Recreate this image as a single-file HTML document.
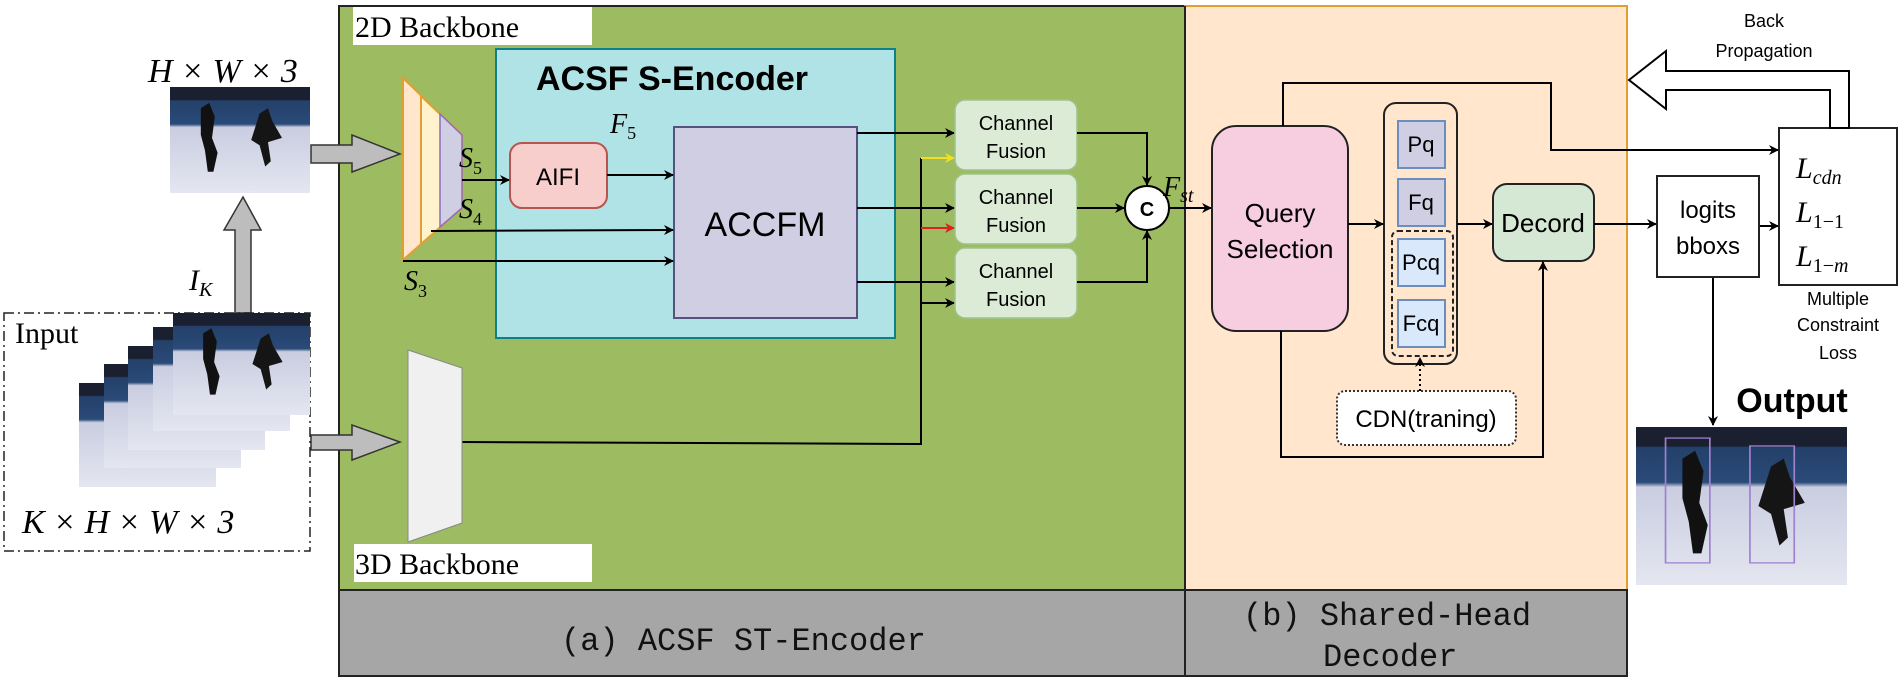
<!DOCTYPE html>
<html><head><meta charset="utf-8"><style>
html,body{margin:0;padding:0;background:#fff;}
svg{display:block;}
.serif{font-family:"Liberation Serif",serif;}
.sans{font-family:"Liberation Sans",sans-serif;}
.mono{font-family:"Liberation Mono",monospace;}
</style></head><body>
<svg width="1900" height="683" viewBox="0 0 1900 683" xmlns="http://www.w3.org/2000/svg">
<defs>
<marker id="ah" markerWidth="10" markerHeight="10" refX="9" refY="5" orient="auto" markerUnits="userSpaceOnUse">
<path d="M0,0 L10,5 L0,10 L3,5 z" fill="#000"/></marker>
<marker id="ahy" markerWidth="10" markerHeight="10" refX="9" refY="5" orient="auto" markerUnits="userSpaceOnUse">
<path d="M0,0 L10,5 L0,10 L3,5 z" fill="#f0e020"/></marker>
<marker id="ahr" markerWidth="10" markerHeight="10" refX="9" refY="5" orient="auto" markerUnits="userSpaceOnUse">
<path d="M0,0 L10,5 L0,10 L3,5 z" fill="#e02020"/></marker>
<linearGradient id="ice" x1="0" y1="0" x2="0" y2="1">
<stop offset="0" stop-color="#1a2030"/><stop offset="0.12" stop-color="#1a2030"/>
<stop offset="0.13" stop-color="#24406a"/><stop offset="0.35" stop-color="#2a4a78"/>
<stop offset="0.38" stop-color="#c9cde0"/><stop offset="1" stop-color="#e4e6f0"/></linearGradient>
<g id="photo">
<rect x="0" y="0" width="100" height="100" fill="url(#ice)"/>
<path d="M22,20 L28,15 L32,28 L30,48 L34,62 L31,80 L27,80 L25,60 L22,45 Z" fill="#111"/>
<path d="M64,25 L70,20 L73,32 L80,48 L70,52 L72,70 L68,75 L64,55 L58,50 Z" fill="#151515"/>
</g>
</defs>

<!-- Panels -->
<rect x="339" y="6" width="846" height="584" fill="#9dbb61" stroke="#222" stroke-width="2"/>
<rect x="1185" y="6" width="442" height="584" fill="#ffe6cc" stroke="#e0a030" stroke-width="2"/>
<line x1="1185" y1="6" x2="1185" y2="590" stroke="#222" stroke-width="2"/>
<rect x="339" y="590" width="1288" height="86" fill="#a6a6a6" stroke="#222" stroke-width="2"/>
<line x1="1185" y1="590" x2="1185" y2="676" stroke="#222" stroke-width="2"/>
<text x="561" y="650" class="mono" font-size="32" fill="#111">(a) ACSF ST-Encoder</text>
<text x="1243" y="625" class="mono" font-size="32" fill="#111">(b) Shared-Head</text>
<text x="1323" y="666" class="mono" font-size="32" fill="#111">Decoder</text>

<!-- 2D backbone label -->
<rect x="353" y="7" width="239" height="38" fill="#fff"/>
<text x="355" y="37" class="serif" font-size="30">2D  Backbone</text>
<rect x="354" y="544" width="238" height="38" fill="#fff"/>
<text x="355" y="574" class="serif" font-size="30">3D  Backbone</text>

<!-- cyan encoder -->
<rect x="496" y="49" width="399" height="289" fill="#b0e3e6" stroke="#0e8088" stroke-width="2"/>
<text x="536" y="90" class="sans" font-size="34" font-weight="bold">ACSF S-Encoder</text>
<text x="610" y="133" class="serif" font-size="28" font-style="italic">F<tspan font-size="18" dy="6" font-style="normal">5</tspan></text>
<rect x="510" y="143" width="97" height="65" rx="12" fill="#f8cecc" stroke="#b85450" stroke-width="2"/>
<text x="558" y="185" class="sans" font-size="24" text-anchor="middle">AIFI</text>
<rect x="674" y="127" width="183" height="191" fill="#d0cee2" stroke="#56517e" stroke-width="2"/>
<text x="765" y="236" class="sans" font-size="34" text-anchor="middle">ACCFM</text>

<!-- 2D trapezoid -->
<path d="M403,78 L462,135 L462,208 L403,260 Z" fill="#ffe6cc" stroke="#e0a030" stroke-width="2"/>
<path d="M421,96 L462,135 L462,208 L421,244 Z" fill="#fff2cc" stroke="#e0a030" stroke-width="2"/>
<path d="M440,114 L462,135 L462,208 L440,227 Z" fill="#d0cee2" stroke="#8a6fc0" stroke-width="1.5"/>
<text x="459" y="167" class="serif" font-size="28" font-style="italic">S<tspan font-size="18" dy="7" font-style="normal">5</tspan></text>
<text x="459" y="218" class="serif" font-size="28" font-style="italic">S<tspan font-size="18" dy="7" font-style="normal">4</tspan></text>
<text x="404" y="290" class="serif" font-size="28" font-style="italic">S<tspan font-size="18" dy="7" font-style="normal">3</tspan></text>

<!-- arrows in encoder -->
<g stroke="#000" stroke-width="2" fill="none">
<line x1="462" y1="180" x2="509" y2="180" marker-end="url(#ah)"/>
<line x1="607" y1="175" x2="673" y2="175" marker-end="url(#ah)"/>
<line x1="431" y1="231" x2="673" y2="230" marker-end="url(#ah)"/>
<line x1="403" y1="261" x2="673" y2="261" marker-end="url(#ah)"/>
<line x1="857" y1="133" x2="954" y2="133" marker-end="url(#ah)"/>
<line x1="857" y1="208" x2="954" y2="208" marker-end="url(#ah)"/>
<line x1="857" y1="282" x2="954" y2="282" marker-end="url(#ah)"/>
<polyline points="462,442 921,444 921,158"/>
<line x1="921" y1="303" x2="954" y2="303" marker-end="url(#ah)"/>
</g>
<line x1="921" y1="158" x2="954" y2="158" stroke="#f0e020" stroke-width="2" marker-end="url(#ahy)"/>
<line x1="921" y1="228" x2="954" y2="228" stroke="#e02020" stroke-width="2" marker-end="url(#ahr)"/>

<!-- channel fusion -->
<g class="sans" font-size="20" text-anchor="middle">
<rect x="955" y="100" width="122" height="70" rx="10" fill="#dcebd6" stroke="#9cc38a" stroke-width="1.5"/>
<text x="1016" y="130">Channel</text><text x="1016" y="158">Fusion</text>
<rect x="955" y="174" width="122" height="70" rx="10" fill="#dcebd6" stroke="#9cc38a" stroke-width="1.5"/>
<text x="1016" y="204">Channel</text><text x="1016" y="232">Fusion</text>
<rect x="955" y="248" width="122" height="70" rx="10" fill="#dcebd6" stroke="#9cc38a" stroke-width="1.5"/>
<text x="1016" y="278">Channel</text><text x="1016" y="306">Fusion</text>
</g>
<g stroke="#000" stroke-width="2" fill="none">
<polyline points="1077,133 1147,133 1147,185" marker-end="url(#ah)"/>
<line x1="1077" y1="208" x2="1124" y2="208" marker-end="url(#ah)"/>
<polyline points="1077,282 1147,282 1147,231" marker-end="url(#ah)"/>
<line x1="1169" y1="208" x2="1211" y2="208" marker-end="url(#ah)"/>
</g>
<circle cx="1147" cy="208" r="22" fill="#fff" stroke="#000" stroke-width="2"/>
<text x="1147" y="216" class="sans" font-size="20" font-weight="bold" text-anchor="middle">C</text>
<text x="1163" y="196" class="serif" font-size="28" font-style="italic">F<tspan font-size="20" dy="6">st</tspan></text>

<!-- decoder -->
<rect x="1212" y="126" width="136" height="205" rx="24" fill="#f7cde0" stroke="#222" stroke-width="2"/>
<text x="1280" y="222" class="sans" font-size="26" text-anchor="middle">Query</text>
<text x="1280" y="258" class="sans" font-size="26" text-anchor="middle">Selection</text>
<rect x="1384" y="103" width="73" height="261" rx="12" fill="#ffe6cc" stroke="#222" stroke-width="2"/>
<rect x="1392" y="231" width="61" height="125" rx="6" fill="none" stroke="#222" stroke-width="2" stroke-dasharray="5,3"/>
<g class="sans" font-size="22" text-anchor="middle">
<rect x="1398" y="121" width="47" height="47" fill="#d0cee2" stroke="#6c8ebf" stroke-width="2"/><text x="1421" y="152">Pq</text>
<rect x="1398" y="179" width="47" height="47" fill="#d0cee2" stroke="#6c8ebf" stroke-width="2"/><text x="1421" y="210">Fq</text>
<rect x="1398" y="239" width="47" height="47" fill="#dae8fc" stroke="#6c8ebf" stroke-width="2"/><text x="1421" y="270">Pcq</text>
<rect x="1398" y="300" width="47" height="47" fill="#dae8fc" stroke="#6c8ebf" stroke-width="2"/><text x="1421" y="331">Fcq</text>
</g>
<rect x="1493" y="184" width="101" height="77" rx="14" fill="#d5e8d4" stroke="#222" stroke-width="2"/>
<text x="1543" y="232" class="sans" font-size="26" text-anchor="middle">Decord</text>
<rect x="1337" y="391" width="179" height="54" rx="8" fill="#fff" stroke="#333" stroke-width="2" stroke-dasharray="2,2"/>
<text x="1426" y="427" class="sans" font-size="24" text-anchor="middle">CDN(traning)</text>
<g stroke="#000" stroke-width="2" fill="none">
<line x1="1348" y1="224" x2="1383" y2="224" marker-end="url(#ah)"/>
<line x1="1457" y1="224" x2="1492" y2="224" marker-end="url(#ah)"/>
<line x1="1420" y1="391" x2="1420" y2="358" stroke-dasharray="2,3" marker-end="url(#ah)"/>
<polyline points="1281,331 1281,457 1543,457 1543,262" marker-end="url(#ah)"/>
<polyline points="1283,126 1283,83 1551,83 1551,150 1778,150" marker-end="url(#ah)"/>
<line x1="1594" y1="224" x2="1656" y2="224" marker-end="url(#ah)"/>
<line x1="1759" y1="226" x2="1778" y2="226" marker-end="url(#ah)"/>
<line x1="1713" y1="277" x2="1713" y2="425" marker-end="url(#ah)"/>
</g>

<!-- right side -->
<rect x="1657" y="176" width="102" height="101" fill="#fff" stroke="#222" stroke-width="2"/>
<text x="1708" y="218" class="sans" font-size="24" text-anchor="middle">logits</text>
<text x="1708" y="254" class="sans" font-size="24" text-anchor="middle">bboxs</text>
<rect x="1779" y="128" width="118" height="157" fill="#fff" stroke="#222" stroke-width="2"/>
<g class="serif" font-size="30" font-style="italic">
<text x="1796" y="178">L<tspan font-size="20" dy="6">cdn</tspan></text>
<text x="1796" y="222">L<tspan font-size="20" dy="6" font-style="normal">1−1</tspan></text>
<text x="1796" y="266">L<tspan font-size="20" dy="6" font-style="normal">1−<tspan font-style="italic">m</tspan></tspan></text>
</g>
<g class="sans" font-size="18" text-anchor="middle">
<text x="1838" y="305">Multiple</text><text x="1838" y="331">Constraint</text><text x="1838" y="359">Loss</text>
<text x="1764" y="27">Back</text><text x="1764" y="57">Propagation</text>
</g>
<path d="M1629,80 L1666,51 L1666,71 L1849,71 L1849,128 L1830,128 L1830,90 L1666,90 L1666,109 Z" fill="#fff" stroke="#000" stroke-width="2"/>
<text x="1792" y="412" class="sans" font-size="34" font-weight="bold" text-anchor="middle">Output</text>
<svg x="1636" y="427" width="211" height="158" viewBox="0 0 100 100" preserveAspectRatio="none"><use href="#photo"/>
<rect x="14" y="7" width="21" height="79" fill="none" stroke="#a080d0" stroke-width="0.8"/>
<rect x="54" y="12" width="21" height="74" fill="none" stroke="#a080d0" stroke-width="0.8"/></svg>

<!-- left side -->
<text x="148" y="82" class="serif" font-size="34" font-style="italic">H × W × 3</text>
<svg x="170" y="87" width="140" height="106" viewBox="0 0 100 100" preserveAspectRatio="none"><use href="#photo"/></svg>
<path d="M311,145 L352,145 L352,135 L400,154 L352,172 L352,163 L311,163 Z" fill="#bdbdbd" stroke="#333" stroke-width="1.5"/>
<path d="M311,435 L352,435 L352,425 L400,442 L352,460 L352,450 L311,450 Z" fill="#bdbdbd" stroke="#333" stroke-width="1.5"/>
<path d="M235,313 L235,230 L224,230 L243,197 L261,230 L251,230 L251,313 Z" fill="#bdbdbd" stroke="#333" stroke-width="1.5"/>
<text x="189" y="290" class="serif" font-size="30" font-style="italic">I<tspan font-size="20" dy="6">K</tspan></text>
<rect x="4" y="313" width="306" height="238" fill="none" stroke="#222" stroke-width="1.5" stroke-dasharray="10,4,2,4"/>
<rect x="6" y="315" width="100" height="32" fill="#fff"/>
<text x="15" y="343" class="serif" font-size="30">Input</text>
<svg x="79" y="383" width="137" height="104" viewBox="0 0 100 100" preserveAspectRatio="none"><use href="#photo"/></svg>
<svg x="104" y="364" width="137" height="104" viewBox="0 0 100 100" preserveAspectRatio="none"><use href="#photo"/></svg>
<svg x="128" y="346" width="137" height="104" viewBox="0 0 100 100" preserveAspectRatio="none"><use href="#photo"/></svg>
<svg x="153" y="327" width="137" height="104" viewBox="0 0 100 100" preserveAspectRatio="none"><use href="#photo"/></svg>
<svg x="173" y="313" width="137" height="102" viewBox="0 0 100 100" preserveAspectRatio="none"><use href="#photo"/></svg>
<text x="22" y="533" class="serif" font-size="34" font-style="italic">K × H × W × 3</text>

<!-- 3D trapezoid -->
<path d="M408,350 L462,368 L462,523 L408,542 Z" fill="#f0f0f0" stroke="#888" stroke-width="1"/>
</svg>
</body></html>
